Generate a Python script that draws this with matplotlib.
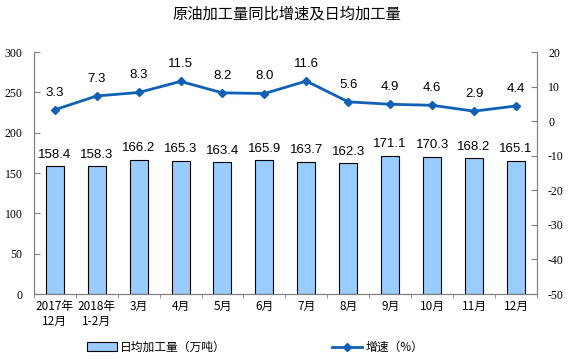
import matplotlib.pyplot as plt
import numpy as np

plt.rcParams['font.family'] = ['Noto Sans CJK SC', 'DejaVu Sans']
plt.rcParams['axes.unicode_minus'] = False

# 月份标签
months = ['2017年\n12月', '2018年\n1-2月', '3月', '4月', '5月', '6月',
          '7月', '8月', '9月', '10月', '11月', '12月']
# 日均加工量（万吨）
daily_output = [158.4, 158.3, 166.2, 165.3, 163.4, 165.9,
                163.7, 162.3, 171.1, 170.3, 168.2, 165.1]
# 增速（%）
growth = [3.3, 7.3, 8.3, 11.5, 8.2, 8.0, 11.6, 5.6, 4.9, 4.6, 2.9, 4.4]

bar_color = '#99CCFF'
line_color = '#1060B8'

fig = plt.figure(figsize=(5.73, 3.59), dpi=100)
ax = fig.add_axes([0.059, 0.181, 0.878, 0.674])
ax2 = ax.twinx()

x = np.arange(len(months))
bars = ax.bar(x, daily_output, width=0.43, color=bar_color,
              edgecolor='black', linewidth=0.8, zorder=2)
for xi, v in zip(x, daily_output):
    ax.annotate(f'{v:.1f}', (xi, v), xytext=(0, 4), textcoords='offset points',
                ha='center', va='bottom', fontsize=9.5, family='Liberation Sans')

ax.set_xlim(-0.5, len(months) - 0.5)
ax.set_ylim(0, 300)
ax.set_yticks(range(0, 301, 50))
ax.set_xticks(x)
ax.set_xticklabels(months, fontsize=8.5)
ax.set_xticks(np.arange(-0.5, len(months)), minor=True)
ax.tick_params(axis='x', which='major', length=0, pad=4)
ax.tick_params(axis='x', which='minor', length=3, direction='out', color='#808080')
ax.tick_params(axis='y', direction='in', length=4, color='#808080', labelsize=8.5,
               labelfontfamily='Liberation Serif', pad=8)

ax2.plot(x, growth, color=line_color, linewidth=2, marker='D', markersize=4.5, zorder=3)
for xi, v in zip(x, growth):
    ax2.annotate(f'{v:.1f}', (xi, v), xytext=(0, 8), textcoords='offset points',
                 ha='center', va='bottom', fontsize=9.5, family='Liberation Sans')
ax2.set_ylim(-50, 20)
ax2.set_yticks(range(-50, 21, 10))
ax2.tick_params(axis='y', direction='in', length=4, color='#808080', labelsize=8.5,
                labelfontfamily='Liberation Serif', pad=8)

for a in (ax, ax2):
    a.spines['top'].set_visible(False)
    for s in ('left', 'right', 'bottom'):
        a.spines[s].set_color('#808080')
        a.spines[s].set_linewidth(0.8)

fig.suptitle('原油加工量同比增速及日均加工量', y=0.985, fontsize=11)

handles = [bars, ax2.lines[0]]
fig.legend(handles, ['日均加工量（万吨）', '增速（%）'], loc='lower center',
           bbox_to_anchor=(0.445, -0.015), ncol=2, frameon=False, fontsize=8.5,
           columnspacing=9, handlelength=2.5, handletextpad=0.3)

fig.savefig('out.png', dpi=100)
